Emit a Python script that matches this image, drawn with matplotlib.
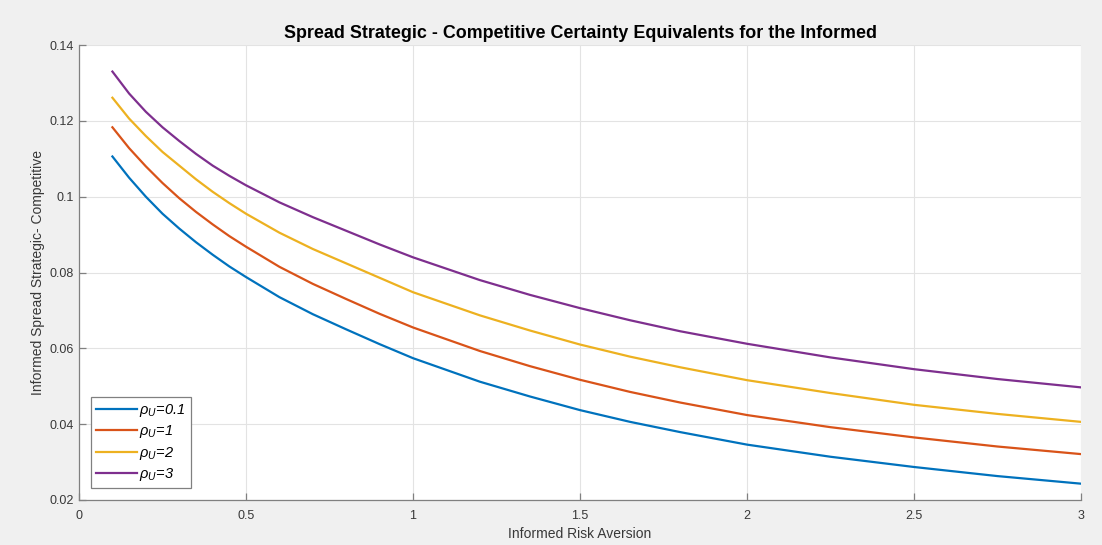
import matplotlib
matplotlib.use('Agg')
import matplotlib.pyplot as plt

## data
risk_aversion = [0.1, 0.15, 0.2, 0.25, 0.3, 0.35, 0.4, 0.45, 0.5, 0.6, 0.7, 0.8, 0.9, 1.0,
                 1.2, 1.35, 1.5, 1.65, 1.8, 2.0, 2.25, 2.5, 2.75, 3.0]
rho_01 = [0.1106, 0.1050, 0.1000, 0.0955, 0.0916, 0.0880, 0.0847, 0.0816, 0.0788, 0.0735, 0.0690, 0.0650,
          0.0611, 0.0574, 0.0512, 0.0473, 0.0437, 0.0406, 0.0379, 0.0346, 0.0314, 0.0287, 0.0263, 0.0243]
rho_1 = [0.1183, 0.1128, 0.1080, 0.1036, 0.0996, 0.0960, 0.0927, 0.0896, 0.0868, 0.0815, 0.0770, 0.0730,
         0.0691, 0.0655, 0.0593, 0.0553, 0.0517, 0.0485, 0.0457, 0.0424, 0.0392, 0.0365, 0.0341, 0.0321]
rho_2 = [0.1261, 0.1206, 0.1160, 0.1118, 0.1082, 0.1046, 0.1013, 0.0983, 0.0955, 0.0905, 0.0862, 0.0824,
         0.0786, 0.0748, 0.0687, 0.0647, 0.0610, 0.0578, 0.0550, 0.0516, 0.0482, 0.0451, 0.0427, 0.0406]
rho_3 = [0.1330, 0.1272, 0.1224, 0.1183, 0.1147, 0.1113, 0.1082, 0.1055, 0.1030, 0.0985, 0.0946, 0.0910,
         0.0874, 0.0840, 0.0780, 0.0741, 0.0706, 0.0674, 0.0645, 0.0612, 0.0576, 0.0545, 0.0519, 0.0497]
series = [rho_01, rho_1, rho_2, rho_3]
labels = [r'$\rho_U$=0.1', r'$\rho_U$=1', r'$\rho_U$=2', r'$\rho_U$=3']
colors = ['#0072BD', '#D95319', '#EDB120', '#7E2F8E']

x_ticks = [0, 0.5, 1, 1.5, 2, 2.5, 3]
x_tick_labels = ['0', '0.5', '1', '1.5', '2', '2.5', '3']
y_ticks = [0.02, 0.04, 0.06, 0.08, 0.10, 0.12, 0.14]
y_tick_labels = ['0.02', '0.04', '0.06', '0.08', '0.1', '0.12', '0.14']

plt.rcParams['font.family'] = ['Liberation Sans', 'DejaVu Sans']
plt.rcParams['mathtext.fontset'] = 'custom'
plt.rcParams['mathtext.it'] = 'Liberation Sans:italic'
plt.rcParams['mathtext.rm'] = 'Liberation Sans'

fig = plt.figure(figsize=(11.02, 5.45), dpi=100, facecolor='#f0f0f0')
ax = fig.add_axes([0.0717, 0.0826, 0.9093, 0.8348])
ax.set_facecolor('white')

for ys, lab, c in zip(series, labels, colors):
    ax.plot(risk_aversion, ys, color=c, linewidth=1.6, label=lab)

ax.set_xlim(0, 3)
ax.set_ylim(0.02, 0.14)
ax.set_xticks(x_ticks)
ax.set_xticklabels(x_tick_labels)
ax.set_yticks(y_ticks)
ax.set_yticklabels(y_tick_labels)
ax.grid(True, color='#e3e3e3', linewidth=0.8)
ax.set_axisbelow(True)

for s in ['top', 'right']:
    ax.spines[s].set_visible(False)
for s in ['left', 'bottom']:
    ax.spines[s].set_color('#808080')
    ax.spines[s].set_linewidth(0.9)
ax.tick_params(direction='in', length=5, width=0.9, color='#808080',
               labelsize=9, labelcolor='#383838')
ax.tick_params(axis='x', pad=7)
ax.tick_params(axis='y', pad=4)

ax.set_title('Spread Strategic - Competitive Certainty Equivalents for the Informed',
             fontsize=12.9, fontweight='bold', pad=5)
ax.set_xlabel('Informed Risk Aversion', fontsize=10, color='#383838', labelpad=4)
ax.set_ylabel('Informed Spread Strategic- Competitive', fontsize=10, color='#383838', labelpad=3)

leg = ax.legend(loc='lower left', bbox_to_anchor=(0.005, 0.01),
                prop={'style': 'italic', 'size': 10.5}, fancybox=False,
                edgecolor='#808080', framealpha=1, handlelength=2.75,
                handletextpad=0.2, borderpad=0.35, labelspacing=0.3)
leg.get_frame().set_linewidth(0.9)

fig.savefig('out.png', dpi=100, facecolor=fig.get_facecolor())
